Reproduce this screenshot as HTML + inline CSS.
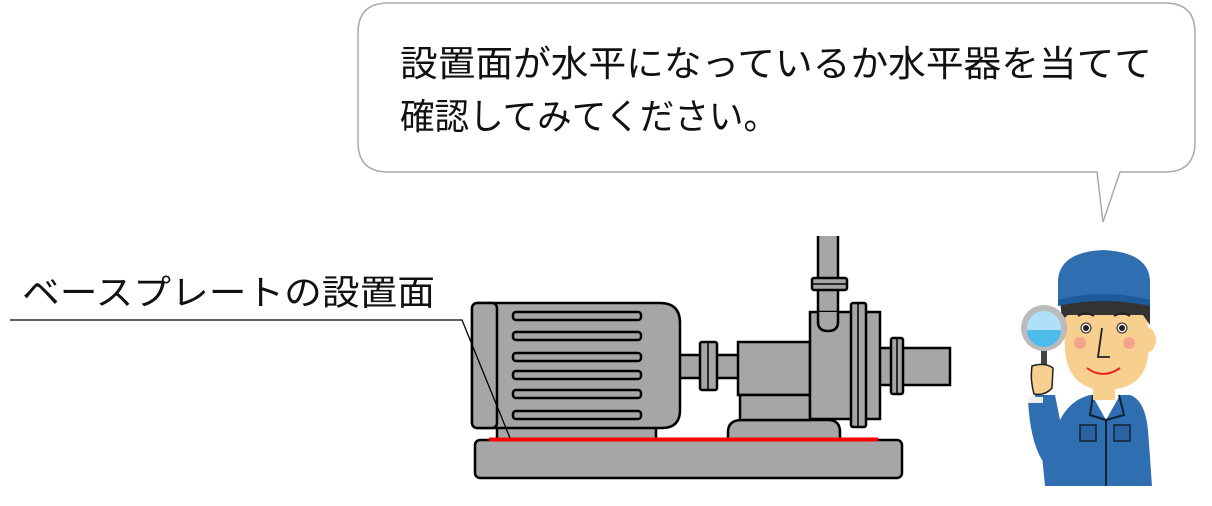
<!DOCTYPE html>
<html><head><meta charset="utf-8"><style>
html,body{margin:0;padding:0;background:#fff;width:1212px;height:506px;overflow:hidden}
svg{display:block}
text{font-family:"Liberation Sans","Noto Sans CJK JP",sans-serif;fill:#111}
</style></head><body>
<svg width="1212" height="506" viewBox="0 0 1212 506" xmlns="http://www.w3.org/2000/svg">
<path d="M388,3 H1165 Q1195,3 1195,33 V142 Q1195,172 1165,172 H1120 L1103,222 L1097,172 H388 Q358,172 358,142 V33 Q358,3 388,3 Z" fill="#fff" stroke="#aaa" stroke-width="1.5"/>
<text x="400" y="76" font-size="36" textLength="752" lengthAdjust="spacingAndGlyphs">設置面が水平になっているか水平器を当てて</text>
<text x="400" y="129" font-size="36" textLength="378" lengthAdjust="spacingAndGlyphs">確認してみてください。</text>
<text x="22" y="305" font-size="35" textLength="413" lengthAdjust="spacingAndGlyphs">ベースプレートの設置面</text>
<g stroke="#000" stroke-width="2.5" fill="#a6a6a6">
<path d="M818,236 V322 Q818,331 828,331 Q838,331 838,322 V236"/>
<rect x="812" y="278" width="35" height="12" rx="2"/>
<line x1="812" y1="284" x2="847" y2="284" stroke-width="1.5"/>
<path d="M875,348 H950 V385 H875"/>
<rect x="891" y="338" width="12" height="56" rx="2"/>
<line x1="897" y1="338" x2="897" y2="394" stroke-width="1.5"/>
<rect x="675" y="355" width="65" height="23"/>
<rect x="700" y="342" width="17" height="48" rx="2"/>
<line x1="708" y1="342" x2="708" y2="390" stroke-width="1.5"/>
<path d="M728,442 V432 Q728,420 742,420 H828 Q840,420 840,432 V442 Z"/>
<rect x="738" y="342" width="72" height="53"/>
<rect x="740" y="395" width="70" height="25"/>
<rect x="810" y="312" width="70" height="107"/>
<path d="M818,312 V322 Q818,331 828,331 Q838,331 838,322 V312" />
<rect x="851" y="303" width="15" height="124" rx="2"/>
<line x1="858" y1="303" x2="858" y2="427" stroke-width="1.5"/>
<rect x="497" y="424" width="159" height="17"/>
<path d="M478,303 H660 Q680,303 680,323 V410 Q680,428 662,428 H478 Q472,428 472,422 V309 Q472,303 478,303 Z"/>
<rect x="472" y="303" width="25" height="125" rx="5"/>
<rect x="513" y="312" width="128" height="8" rx="3"/>
<rect x="513" y="332" width="128" height="8" rx="3"/>
<rect x="513" y="353" width="128" height="8" rx="3"/>
<rect x="513" y="371" width="128" height="8" rx="3"/>
<rect x="513" y="390" width="128" height="8" rx="3"/>
<rect x="513" y="411" width="128" height="8" rx="3"/>
<rect x="475" y="440" width="427" height="38" rx="5"/>
</g>
<line x1="489" y1="439.5" x2="878" y2="439.5" stroke="#f00" stroke-width="4"/>
<path d="M10,320 H462 L510,438" fill="none" stroke="#000" stroke-width="1.3"/>
<g>
<path d="M1045,486 L1040,435 Q1036,400 1035,395 L1055,395 L1060,420 Q1070,400 1090,395 H1130 Q1145,400 1148,430 L1152,486 Z" fill="#2f6eb0"/>
<path d="M1092,395 L1106,420 L1120,395 Z" fill="#fff"/>
<path d="M1093,395 L1090,415 L1106,420 M1119,395 L1124,415 L1106,420" stroke="#123" stroke-width="2" fill="none"/>
<line x1="1106" y1="420" x2="1106" y2="486" stroke="#123" stroke-width="2"/>
<rect x="1080" y="425" width="16" height="16" fill="#2a63a0" stroke="#123" stroke-width="1.5"/>
<rect x="1114" y="425" width="16" height="16" fill="#2a63a0" stroke="#123" stroke-width="1.5"/>
<rect x="1093" y="375" width="22" height="25" fill="#f7cf8e"/>
<ellipse cx="1146" cy="340" rx="10" ry="13" fill="#f7cf8e"/>
<path d="M1062,300 H1148 V355 Q1145,390 1103,390 Q1068,388 1065,350 Z" fill="#f7cf8e"/>
<path d="M1060,300 H1150 V325 L1143,315 H1068 L1062,320 Z" fill="#333"/>
<path d="M1058,305 V280 Q1060,252 1103,250 Q1148,252 1150,280 V305 Q1103,290 1058,305 Z" fill="#2f6eb0"/>
<path d="M1058,300 Q1103,288 1150,300 V306 Q1103,296 1058,306 Z" fill="#1c5a9c"/>
<circle cx="1086" cy="328" r="5" fill="#fff" stroke="#222" stroke-width="1"/><circle cx="1086" cy="328" r="3" fill="#222"/>
<circle cx="1122" cy="328" r="5" fill="#fff" stroke="#222" stroke-width="1"/><circle cx="1122" cy="328" r="3" fill="#222"/>
<path d="M1078,316 Q1086,311 1094,316 M1114,316 Q1122,311 1130,316" stroke="#222" stroke-width="2" fill="none"/>
<path d="M1102,328 L1098,357 H1110" stroke="#222" stroke-width="1.8" fill="none"/>
<circle cx="1080" cy="343" r="6" fill="#f2a58c"/><circle cx="1129" cy="343" r="6" fill="#f2a58c"/>
<path d="M1087,368 Q1103,380 1120,368" stroke="#e22" stroke-width="2" fill="none"/>
<path d="M1028,400 L1043,400 L1048,430 L1058,450 L1042,460 Q1030,440 1028,400 Z" fill="#2f6eb0"/>
<rect x="1028" y="397" width="15" height="6" fill="#eee"/>
<rect x="1041" y="350" width="6" height="18" fill="#444"/>
<circle cx="1044" cy="328" r="23" fill="#bbb"/>
<circle cx="1044" cy="328" r="17" fill="#aee0f7"/>
<path d="M1027,330 H1061 A17,17 0 0 1 1027,330 Z" fill="#4fbdec"/>
<path d="M1032,366 Q1045,362 1053,368 L1052,388 Q1045,396 1034,394 Q1030,380 1032,366 Z" fill="#f7cf8e" stroke="#222" stroke-width="1.5"/>
</g>
</svg>
</body></html>
